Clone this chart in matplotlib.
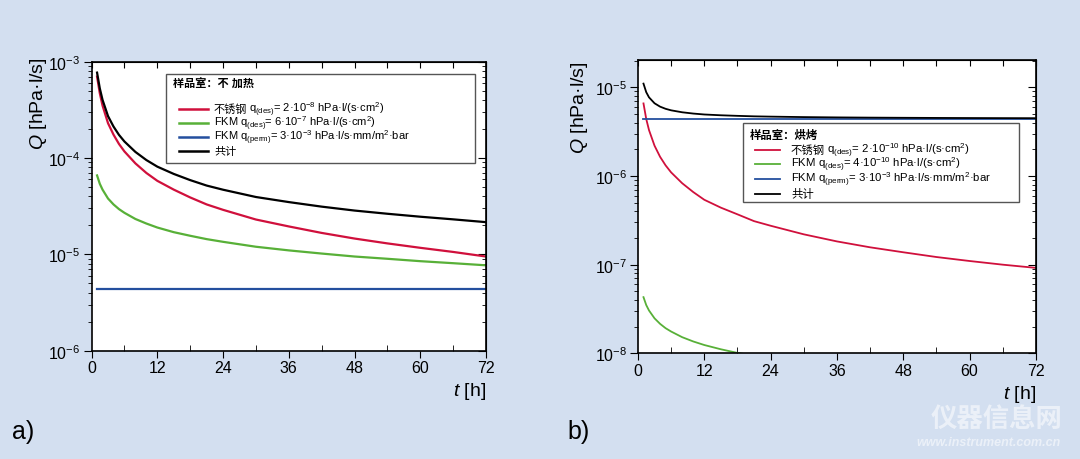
import matplotlib
matplotlib.use("Agg")
import matplotlib.pyplot as plt
import numpy as np
from matplotlib.lines import Line2D
from matplotlib.patches import Rectangle
from matplotlib.text import Annotation
from matplotlib.transforms import Affine2D

plt.rcParams["font.family"] = ["Liberation Sans", "Noto Sans CJK SC"]
plt.rcParams["mathtext.fontset"] = "custom"
plt.rcParams["mathtext.rm"] = "Liberation Sans"
plt.rcParams["mathtext.it"] = "Liberation Sans:italic"

# time axis [h]
t = [1, 1.5, 2, 3, 4, 5, 6, 8, 10, 12, 15, 18, 21, 24, 30, 36, 42, 48, 54, 60, 66, 72]

# a) chamber not heated
steel_a = [7.0e-4, 4.7e-4, 3.5e-4, 2.3e-4, 1.75e-4, 1.4e-4, 1.17e-4, 8.8e-5, 7.0e-5,
           5.8e-5, 4.7e-5, 3.9e-5, 3.3e-5, 2.9e-5, 2.3e-5, 1.95e-5, 1.67e-5, 1.46e-5,
           1.3e-5, 1.17e-5, 1.06e-5, 9.5e-6]
fkm_a = [6.6e-5, 5.4e-5, 4.7e-5, 3.8e-5, 3.3e-5, 2.95e-5, 2.7e-5, 2.33e-5, 2.09e-5,
         1.9e-5, 1.7e-5, 1.56e-5, 1.44e-5, 1.35e-5, 1.2e-5, 1.1e-5, 1.02e-5, 9.5e-6,
         9.0e-6, 8.5e-6, 8.1e-6, 7.7e-6]
perm_a = [4.4e-6] * len(t)

# b) chamber baked
steel_b = [6.6e-6, 4.4e-6, 3.3e-6, 2.2e-6, 1.65e-6, 1.32e-6, 1.1e-6, 8.3e-7, 6.6e-7,
           5.4e-7, 4.4e-7, 3.7e-7, 3.1e-7, 2.75e-7, 2.2e-7, 1.83e-7, 1.57e-7, 1.38e-7,
           1.22e-7, 1.1e-7, 1.0e-7, 9.2e-8]
fkm_b = [4.3e-8, 3.5e-8, 3.04e-8, 2.48e-8, 2.15e-8, 1.92e-8, 1.76e-8, 1.52e-8, 1.36e-8,
         1.24e-8, 1.11e-8, 1.01e-8, 9.4e-9, 8.8e-9, 7.9e-9, 7.2e-9, 6.6e-9, 6.2e-9,
         5.9e-9, 5.6e-9, 5.3e-9, 5.1e-9]
perm_b = [4.4e-6] * len(t)

steel_name = "不锈钢"
labels_a = [
    r"q$_{\mathrm{(des)}}$= 2·10$^{-8}$ hPa·l/(s·cm$^{2}$)",
    r"FKM q$_{\mathrm{(des)}}$= 6·10$^{-7}$ hPa·l/(s·cm$^{2}$)",
    r"FKM q$_{\mathrm{(perm)}}$= 3·10$^{-3}$ hPa·l/s·mm/m$^{2}$·bar",
    "共计",
]
labels_b = [
    r"q$_{\mathrm{(des)}}$= 2·10$^{-10}$ hPa·l/(s·cm$^{2}$)",
    r"FKM q$_{\mathrm{(des)}}$= 4·10$^{-10}$ hPa·l/(s·cm$^{2}$)",
    r"FKM q$_{\mathrm{(perm)}}$= 3·10$^{-3}$ hPa·l/s·mm/m$^{2}$·bar",
    "共计",
]
title_a = "样品室：不 加热"
title_b = "样品室：烘烤"
colors = ["#d0103c", "#58b038", "#244f9e", "#000000"]
bg = "#d3dff0"

W, H = 1080, 460
fig = plt.figure(figsize=(W / 100, H / 100), dpi=100, facecolor=bg)
# pixel coordinates (origin top-left) -> figure
px = Affine2D().scale(1 / W, -1 / H).translate(0, 1) + fig.transFigure


def draw_panel(ax, steel, fkm, perm, ylim, lw, ylab_xy):
    total = np.array(steel) + np.array(fkm) + np.array(perm)
    for y, c in zip([steel, fkm, perm, total], colors):
        ax.plot(t, y, color=c, lw=lw)
    ax.set_yscale("log")
    ax.set_xlim(0, 72)
    ax.set_ylim(*ylim)
    ax.set_xticks(range(0, 73, 12))
    ax.set_xticks(range(6, 73, 12), minor=True)
    ax.tick_params(axis="x", which="major", direction="out", length=5, labelsize=11.5, pad=2)
    ax.tick_params(axis="x", which="minor", direction="in", length=4)
    ax.tick_params(axis="y", which="major", direction="out", length=6, labelsize=11.5, pad=2)
    ax.tick_params(axis="y", which="minor", direction="out", length=3)
    for s in ax.spines.values():
        s.set_linewidth(1.2)
    top = ax.secondary_xaxis("top")
    top.set_xticks(range(0, 73, 6))
    top.tick_params(direction="in", length=4, labeltop=False)
    right = ax.secondary_yaxis("right")
    right.set_yscale("log")
    right.tick_params(which="major", direction="in", length=6, labelright=False)
    right.tick_params(which="minor", direction="in", length=3, labelright=False)
    ax.set_ylabel(r"$Q$ [hPa·l/s]", fontsize=14)
    ax.yaxis.set_label_coords(*ylab_xy)
    ax.text(1.0, -0.1, r"$t$ [h]", transform=ax.transAxes, ha="right", va="top", fontsize=14)


def draw_legend(box, title, title_xy, rows, hx, tx, labels, fs, lw):
    x0, y0, x1, y1 = box
    fig.add_artist(Rectangle((x0, y0), x1 - x0, y1 - y0, transform=px, facecolor="white",
                             edgecolor="#555555", lw=1.0, zorder=2))
    fig.text(*title_xy, title, transform=px, fontsize=fs, weight="bold",
             va="center", ha="left", zorder=3)
    for i, (y, c, lab) in enumerate(zip(rows, colors, labels)):
        fig.add_artist(Line2D(hx, [y, y], transform=px, color=c, lw=lw, zorder=3))
        if i == 0:
            name = fig.text(tx, y, steel_name, transform=px, fontsize=fs,
                            va="center", ha="left", zorder=3)
            fig.add_artist(Annotation(lab, xy=(1, 0.5), xycoords=name, xytext=(1.5, 0),
                                      textcoords="offset points", fontsize=fs,
                                      va="center", ha="left", zorder=3))
        else:
            fig.text(tx, y, lab, transform=px, fontsize=fs, va="center", ha="left", zorder=3)


ax1 = fig.add_axes([0.0848, 0.2354, 0.3652, 0.6283])
ax2 = fig.add_axes([0.5907, 0.2298, 0.3685, 0.638])

draw_panel(ax1, steel_a, fkm_a, perm_a, (1e-6, 1e-3), 1.6, (-0.108, 0.86))
draw_panel(ax2, steel_b, fkm_b, perm_b, (1e-8, 2.05e-5), 1.3, (-0.12, 0.84))

draw_legend((166, 75, 475, 164), title_a, (173, 84), [109.5, 123.8, 138.1, 152.4],
            [179, 208], 214, labels_a, 8.0, 1.8)
draw_legend((742.5, 124, 1018.6, 203), title_b, (750, 135), [150.5, 165.3, 180.1, 194.9],
            [755, 780], 791, labels_b, 8.2, 1.3)

fig.text(0.011, 0.06, "a)", fontsize=18, ha="left", va="center")
fig.text(0.525, 0.06, "b)", fontsize=18, ha="left", va="center")

# faint watermark
fig.text(0.984, 0.088, "仪器信息网", fontsize=19, weight="bold", color="white",
         alpha=0.55, ha="right", va="center")
fig.text(0.982, 0.038, "www.instrument.com.cn", fontsize=9, style="italic",
         weight="bold", color="white", alpha=0.55, ha="right", va="center")

fig.savefig("out.png", dpi=100, facecolor=bg)
